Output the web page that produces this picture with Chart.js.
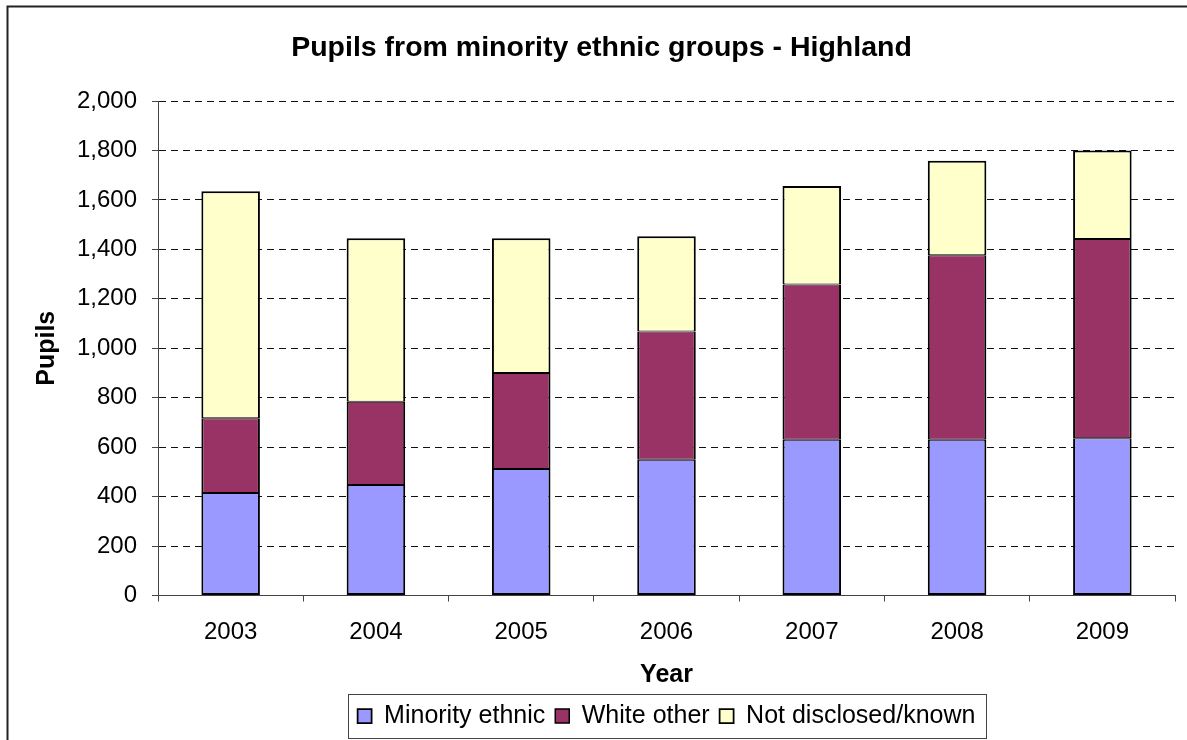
<!DOCTYPE html>
<html>
<head>
<meta charset="utf-8">
<title>Pupils from minority ethnic groups - Highland</title>
<script src="https://cdn.jsdelivr.net/npm/chart.js@4.4.1/dist/chart.umd.min.js"></script>
<style>
  body { margin: 0; background: #fff; }
  #chart { display: block; }
</style>
</head>
<body>
<canvas id="chart" width="1187" height="740"></canvas>
<script>
// data
const years = ['2003', '2004', '2005', '2006', '2007', '2008', '2009'];
const minorityEthnic = [415, 447, 512, 549, 630, 630, 636];
const whiteOther = [302, 337, 388, 519, 628, 746, 806];
const notDisclosed = [918, 661, 545, 385, 398, 382, 358];
const yTicks = [0, 200, 400, 600, 800, 1000, 1200, 1400, 1600, 1800, 2000];

const font = '"Liberation Sans", Arial, sans-serif';
Chart.defaults.font.family = font;
Chart.defaults.color = '#000';

// frame round the whole chart + box round the legend, like the excel export
const framePlugin = {
    id: 'frame',
    afterLayout: function(chart) {
        // excel centres legend and title over the plot, not the canvas
        const area = chart.chartArea;
        const mid = (area.left + area.right) / 2;
        const lg = chart.legend;
        const shift = mid - (lg.left + lg.right) / 2;
        lg.left += shift;
        lg.right += shift;
        const tb = chart.titleBlock;
        tb.left += 10;
        tb.right += 10;
    },
    beforeDraw: function(chart) {
        const ctx = chart.ctx;
        ctx.save();
        ctx.fillStyle = '#fff';
        ctx.fillRect(0, 0, chart.width, chart.height);
        ctx.strokeStyle = '#222';
        ctx.lineWidth = 2;
        ctx.strokeRect(7.5, 6.5, chart.width + 20, chart.height + 20);
        ctx.restore();
    },
    afterDraw: function(chart) {
        const lg = chart.legend;
        const pad = lg.options.labels.padding;
        const lw = lg.lineWidths[0];
        const start = (lg.left + pad + lg.right - lw) / 2;
        const ctx = chart.ctx;
        ctx.save();
        ctx.strokeStyle = '#444';
        ctx.lineWidth = 1;
        ctx.strokeRect(Math.round(start - 10) + 0.5, Math.round(lg.top) + 0.5, Math.round(lw - pad + 20), 44);
        ctx.restore();
    }
};

// seams between stacked segments: 1px from each side so they add up to 2px
new Chart(document.getElementById('chart'), {
    type: 'bar',
    data: {
        labels: years,
        datasets: [{
            label: 'Minority ethnic',
            data: minorityEthnic,
            backgroundColor: '#9999FF',
            borderColor: '#000',
            borderWidth: { left: 2, right: 2, top: 1, bottom: 2 },
            borderSkipped: false
        }, {
            label: 'White other',
            data: whiteOther,
            backgroundColor: '#993366',
            borderColor: '#000',
            borderWidth: { left: 2, right: 2, top: 1, bottom: 1 },
            borderSkipped: false
        }, {
            label: 'Not disclosed/known',
            data: notDisclosed,
            backgroundColor: '#FFFFCC',
            borderColor: '#000',
            borderWidth: { left: 2, right: 2, top: 2, bottom: 1 },
            borderSkipped: false
        }]
    },
    options: {
        responsive: false,
        animation: false,
        layout: { padding: { left: 8, right: 12, top: 6, bottom: 1.5 } },
        datasets: {
            bar: { barPercentage: 0.403, categoryPercentage: 1 }
        },
        plugins: {
            title: {
                display: true,
                text: 'Pupils from minority ethnic groups - Highland',
                font: { size: 28.5, weight: 'bold', lineHeight: 1 },
                padding: { top: 28, bottom: 38.5 }
            },
            legend: {
                position: 'bottom',
                labels: {
                    font: { size: 25 },
                    boxWidth: 14,
                    boxHeight: 14,
                    padding: 10
                }
            },
            tooltip: { enabled: false }
        },
        scales: {
            x: {
                stacked: true,
                grid: {
                    display: true,
                    drawOnChartArea: false,
                    drawTicks: true,
                    tickLength: 6,
                    color: '#444',
                    offset: true
                },
                border: { color: '#444', width: 1 },
                ticks: { font: { size: 24 }, padding: 16 },
                title: {
                    display: true,
                    text: 'Year',
                    font: { size: 25, weight: 'bold', lineHeight: 1 },
                    padding: { top: 0, bottom: 5.5 }
                },
                afterFit: function(scale) { scale.height = 98; }
            },
            y: {
                stacked: true,
                min: 0,
                max: 2000,
                afterBuildTicks: function(scale) {
                    scale.ticks = yTicks.map(function(v) { return { value: v }; });
                },
                grid: {
                    color: function(c) { return c.tick && c.tick.value === 0 ? 'rgba(0,0,0,0)' : '#111'; },
                    tickColor: '#444',
                    tickLength: 6,
                    tickBorderDash: []
                },
                border: { color: '#444', width: 1, dash: [7, 5] },
                ticks: {
                    font: { size: 24 },
                    padding: 15,
                    callback: function(v) { return Number(v).toLocaleString('en-US'); }
                },
                title: {
                    display: true,
                    text: 'Pupils',
                    font: { size: 25, weight: 'bold', lineHeight: 1 },
                    padding: { top: 27, bottom: 0 }
                },
                afterFit: function(scale) { scale.width = 150; }
            }
        }
    },
    plugins: [framePlugin]
});
</script>
</body>
</html>
